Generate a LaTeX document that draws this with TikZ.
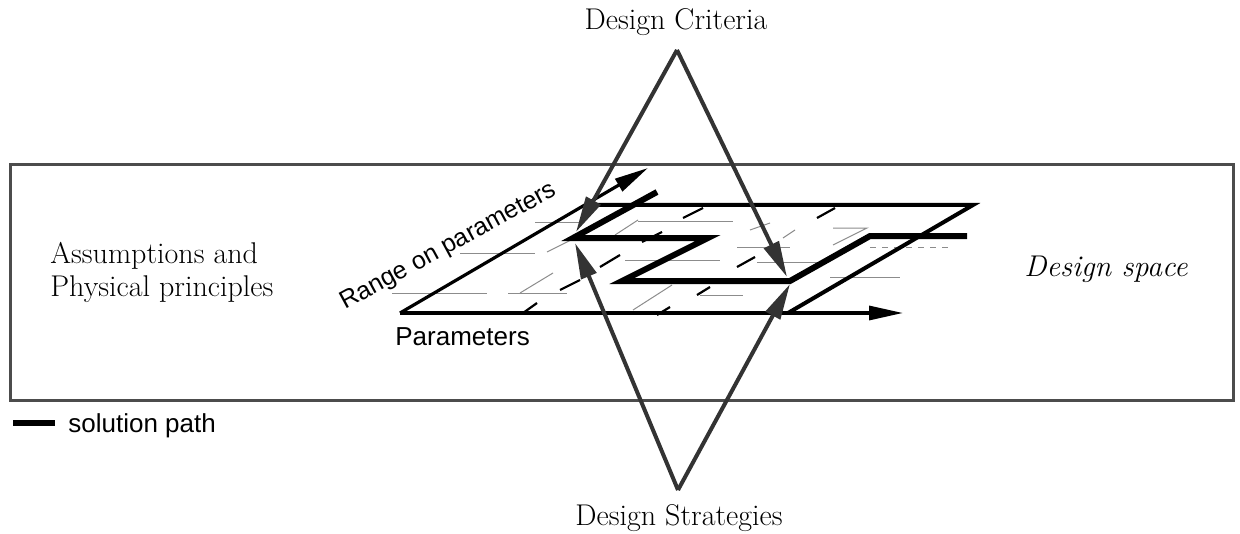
\documentclass[tikz,border=0pt]{standalone}
\usepackage{fontspec}
\newfontfamily\helv{Liberation Sans}
\usetikzlibrary{arrows.meta}
\begin{document}
\begin{tikzpicture}[x=0.5pt,y=-0.5pt,
  frame/.style={draw=black!70,line width=1.6pt},
  diam/.style={draw=black!80,line width=2pt,-{Triangle[length=18pt,width=8pt]}},
  plane/.style={draw=black,line width=2pt,line join=miter},
  axis/.style={draw=black,line width=1.6pt,-{Triangle[length=17pt,width=7pt]}},
  solpath/.style={draw=black,line width=3pt,line join=miter},
  gridline/.style={draw=black!45,line width=0.5pt},
  tickmark/.style={draw=black,line width=1.1pt},
  serif/.style={font=\fontsize{15}{18}\selectfont},
  sans/.style={font=\helv\fontsize{13}{15}\selectfont},
]
\useasboundingbox (0,0) rectangle (1240,534);

% outer frame
\node[frame,minimum width=611.5pt,minimum height=118pt,anchor=north west,inner sep=0pt] (frame) at (9,163) {};

% plane corners
\coordinate (P0) at (400,313);
\coordinate (P1) at (788,313);
\coordinate (P2) at (973,205);
\coordinate (P3) at (585,205);
\coordinate (Pend) at (903,313);
\coordinate (Rend) at (648,168);

% faint grid
\draw[gridline] (392,293) -- (487,293);
\draw[gridline] (508,293) -- (567,293);
\draw[gridline] (460,253) -- (535,253);
\draw[gridline] (535,222) -- (580,222);
\draw[gridline] (638,221) -- (733,221);
\draw[gridline] (625,260) -- (720,260);
\draw[gridline] (737,247) -- (790,247);
\draw[gridline] (757,262) -- (820,262);
\draw[gridline] (700,295) -- (743,295);
\draw[gridline] (833,228) -- (867,228) -- (833,245);
\draw[gridline,dashed] (870,247) -- (950,247);
\draw[gridline] (830,277) -- (900,277);
\draw[gridline] (520,293) -- (553,273);
\draw[gridline] (547,252) -- (575,238);
\draw[gridline] (615,235) -- (638,220);
\draw[gridline] (633,310) -- (672,285);
\draw[gridline] (750,230) -- (770,223);
\draw[gridline] (783,238) -- (795,230);
\draw[tickmark] (523,313) -- (537,303);
\draw[tickmark] (560,290) -- (580,280);
\draw[tickmark] (683,218) -- (703,208);
\draw[tickmark] (600,267) -- (620,255);
\draw[tickmark] (642,242) -- (662,232);
\draw[tickmark] (737,267) -- (755,257);
\draw[tickmark] (697,295) -- (710,287);
\draw[tickmark] (657,315) -- (670,307);
\draw[tickmark] (817,218) -- (835,208);

% plane
\draw[plane] (P1) -- (P2) -- (P3);
\draw[axis] (P0) -- (Pend);
\draw[axis] (P0) -- (Rend);

% solution path
\coordinate (S0) at (657,192);
\coordinate (S1) at (573,238);
\coordinate (S2) at (708,238);
\coordinate (S3) at (622,281);
\coordinate (S4) at (790,281);
\coordinate (S5) at (870,236);
\coordinate (S6) at (967,236);
\draw[solpath] (S0) -- (S1) -- (S2) -- (S3) -- (S4) -- (S5) -- (S6);

% diamond
\node[serif,anchor=base,inner sep=0pt] (crit) at (676,30) {Design Criteria};
\node[serif,anchor=base,inner sep=0pt] (strat) at (679,525) {Design Strategies};
\coordinate (CT) at (677,50);
\coordinate (SB) at (678,490);
\coordinate (TL) at (576,232);
\coordinate (TR) at (787,277);
\coordinate (BL) at (575,243);
\coordinate (BR) at (790,284);
\draw[diam] (CT) -- (TL);
\draw[diam] (CT) -- (TR);
\draw[diam] (SB) -- (BL);
\draw[diam] (SB) -- (BR);

% labels
\node[serif,anchor=base west,inner sep=0pt] (assum1) at (50,263) {Assumptions and};
\node[serif,anchor=base west,inner sep=0pt] (assum2) at (50,296) {Physical principles};
\node[serif,anchor=base east,inner sep=0pt,font=\fontsize{15}{18}\selectfont\itshape] (dspace) at (1188,276) {Design space};
\node[sans,anchor=base west,inner sep=0pt] (params) at (395,345) {Parameters};
\node[font=\helv\fontsize{12.5}{15}\selectfont,rotate=28.5,anchor=base west,inner sep=0pt] (range) at (345,310) {Range on parameters};

% legend
\coordinate (L0) at (13,423);
\coordinate (L1) at (55,423);
\draw[solpath] (L0) -- (L1);
\node[sans,anchor=base west,inner sep=0pt] (legend) at (68,432) {solution path};
\end{tikzpicture}
\end{document}
